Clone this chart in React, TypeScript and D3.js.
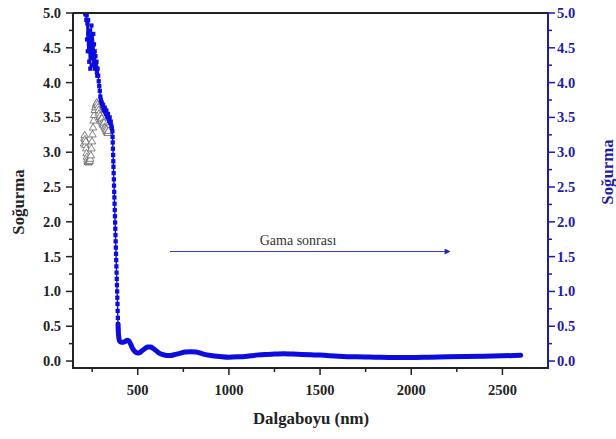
import React from 'react';
import * as d3 from 'd3';

// blue series (after gamma) - wavelength (nm) and absorbance
const blueNm = [
  212, 214, 216, 218, 220, 222, 224, 226, 228, 230, 232, 234, 236, 238, 240, 242, 244, 246, 248, 250,
  252, 254, 256, 258, 260, 262, 264, 266, 268, 270, 272, 274, 276, 278, 280, 283, 286, 289, 292, 295,
  298, 301, 304, 307, 310, 313, 316, 319, 322, 325, 328, 331, 334, 337, 340, 343, 346, 349, 352, 355,
  358, 361, 362, 363, 364, 365, 366, 367, 368, 369, 370, 371, 372, 373, 374, 375, 376, 377, 378, 379,
  380, 381, 382, 383, 384, 385, 386, 387, 388, 389, 390, 391, 392, 393, 395, 398, 402, 410, 420, 430,
  440, 450, 460, 470, 480, 490, 500, 510, 525, 540, 555, 570, 585, 600, 620, 640, 660, 680, 700, 730,
  760, 790, 820, 860, 900, 950, 1000, 1050, 1100, 1150, 1200, 1250, 1300, 1350, 1400, 1450, 1500, 1600,
  1700, 1800, 1900, 2000, 2100, 2200, 2300, 2400, 2500, 2600
];
const blueAbs = [
  5.0, 4.98, 5.0, 4.9, 4.97, 4.62, 4.85, 4.45, 4.9, 4.7, 4.55, 4.3, 4.75, 4.5, 4.2, 4.65, 4.4, 4.82, 4.35, 4.6,
  4.48, 4.25, 4.7, 4.4, 4.55, 4.3, 4.45, 4.2, 4.38, 4.28, 4.22, 4.3, 4.15, 4.1, 4.2, 4.1, 4.02, 3.95, 3.88, 3.8,
  3.75, 3.72, 3.7, 3.66, 3.68, 3.62, 3.6, 3.64, 3.58, 3.55, 3.6, 3.52, 3.5, 3.55, 3.48, 3.45, 3.5, 3.42, 3.44, 3.38,
  3.35, 3.3, 3.22, 3.14, 3.05, 2.96, 2.87, 2.79, 2.7, 2.61, 2.52, 2.43, 2.35, 2.26, 2.17, 2.08, 1.99, 1.9, 1.81, 1.72,
  1.63, 1.54, 1.45, 1.36, 1.27, 1.18, 1.09, 1.0, 0.91, 0.82, 0.72, 0.62, 0.53, 0.45, 0.37, 0.31, 0.28, 0.27, 0.27, 0.28,
  0.3, 0.29, 0.25, 0.19, 0.15, 0.125, 0.115, 0.12, 0.15, 0.18, 0.2, 0.2, 0.18, 0.15, 0.11, 0.09, 0.08, 0.08, 0.09, 0.11,
  0.13, 0.135, 0.13, 0.1, 0.08, 0.065, 0.055, 0.06, 0.07, 0.085, 0.095, 0.1, 0.105, 0.1, 0.095, 0.09, 0.085, 0.07,
  0.06, 0.055, 0.05, 0.05, 0.055, 0.06, 0.065, 0.07, 0.075, 0.082
];

// grey series (before gamma), only the UV part is visible
const grayNm = [
  205, 207, 209, 211, 213, 215, 217, 219, 221, 223, 225, 228, 231, 234, 237, 240, 243, 246, 249, 252,
  255, 258, 261, 264, 267, 270, 273, 276, 279, 282, 285, 288, 291, 294, 297, 300, 303, 306, 309, 312,
  315, 318, 321, 324, 327, 330, 333, 336, 339
];
const grayAbs = [
  3.12, 3.2, 3.24, 3.18, 3.1, 3.15, 3.05, 2.98, 2.93, 2.89, 2.86, 2.85, 2.85, 2.86, 2.87, 2.9, 2.95, 3.05, 3.15, 3.25,
  3.35, 3.45, 3.53, 3.6, 3.64, 3.67, 3.7, 3.71, 3.68, 3.64, 3.6, 3.55, 3.5, 3.52, 3.47, 3.44, 3.48, 3.42, 3.4, 3.38,
  3.42, 3.36, 3.35, 3.33, 3.3, 3.32, 3.28, 3.27, 3.3
];

const xMajor = [500, 1000, 1500, 2000, 2500];
const xMinor = [250, 750, 1250, 1750, 2250];
const yMajor = [0, 0.5, 1.0, 1.5, 2.0, 2.5, 3.0, 3.5, 4.0, 4.5, 5.0];
const yMinor = [0.25, 0.75, 1.25, 1.75, 2.25, 2.75, 3.25, 3.75, 4.25, 4.75];

const W = 616;
const H = 439;
const left = 73, right = 548, top = 13, bottom = 368;

const font = '"Liberation Serif", "Times New Roman", serif';
const axisBlue = '#1c1ca8';
const dataBlue = '#0c0ce0';

export default function App() {
  const x = d3.scaleLinear().domain([145, 2750]).range([left, right]);
  const y = d3.scaleLinear().domain([-0.1, 5.0]).range([bottom, top]);

  const blue = blueNm.map((d, i) => [d, blueAbs[i]] as [number, number]);
  const gray = grayNm.map((d, i) => [d, grayAbs[i]] as [number, number]);

  const line = d3.line<[number, number]>().x(d => x(d[0])).y(d => y(d[1]));
  const smooth = d3.line<[number, number]>().x(d => x(d[0])).y(d => y(d[1])).curve(d3.curveMonotoneX);

  const square = d3.symbol().type(d3.symbolSquare).size(18)();
  const tri = d3.symbol().type(d3.symbolTriangle).size(24)();

  const tail = blue.filter(d => d[0] >= 392);
  const head = blue.filter(d => d[0] <= 393);

  return (
    <div style={{ position: 'absolute', left: 0, top: 0 }}>
      <svg width={W} height={H} style={{ display: 'block', background: '#fff' }}>
        <defs>
          <clipPath id="plot">
            <rect x={left} y={top} width={right - left} height={bottom - top} />
          </clipPath>
          <marker id="arr" viewBox="0 0 10 10" refX="9" refY="5" markerWidth="8" markerHeight="6" orient="auto" markerUnits="userSpaceOnUse">
            <path d="M0,0 L10,5 L0,10 z" fill="#2222cc" />
          </marker>
        </defs>

        <g clipPath="url(#plot)">
          {/* grey series */}
          <path d={line(gray) || ''} fill="none" stroke="#888" strokeWidth={0.8} />
          {gray.map((d, i) => (
            <path key={'g' + i} d={tri || ''} transform={`translate(${x(d[0])},${y(d[1])})`}
              fill="#fff" stroke="#666" strokeWidth={0.8} />
          ))}
          {/* blue series */}
          <path d={line(head) || ''} fill="none" stroke={dataBlue} strokeWidth={1.4} />
          <path d={smooth(tail) || ''} fill="none" stroke={dataBlue} strokeWidth={5} strokeLinejoin="round" strokeLinecap="round" />
          {head.map((d, i) => (
            <path key={'b' + i} d={square || ''} transform={`translate(${x(d[0])},${y(d[1])})`} fill={dataBlue} />
          ))}
        </g>

        {/* frame */}
        <line x1={left} x2={right} y1={top} y2={top} stroke="#222" strokeWidth={2} />
        <line x1={left} x2={right} y1={bottom} y2={bottom} stroke="#222" strokeWidth={2} />
        <line x1={left} x2={left} y1={top} y2={bottom + 1} stroke="#222" strokeWidth={2} />
        <line x1={right} x2={right} y1={top - 1} y2={bottom + 1} stroke={axisBlue} strokeWidth={2} />

        {/* x axis */}
        {xMajor.map(t => (
          <g key={'xm' + t}>
            <line x1={x(t)} x2={x(t)} y1={bottom} y2={bottom + 7} stroke="#222" strokeWidth={1.5} />
            <text x={x(t)} y={bottom + 27} textAnchor="middle" fontFamily={font} fontWeight="bold" fontSize={14.5} fill="#222">{t}</text>
          </g>
        ))}
        {xMinor.map(t => (
          <line key={'xn' + t} x1={x(t)} x2={x(t)} y1={bottom} y2={bottom + 4} stroke="#222" strokeWidth={1.5} />
        ))}

        {/* left y axis */}
        {yMajor.map(t => (
          <g key={'ym' + t}>
            <line x1={left - 7} x2={left} y1={y(t)} y2={y(t)} stroke="#222" strokeWidth={1.5} />
            <text x={left - 12} y={y(t) + 5} textAnchor="end" fontFamily={font} fontWeight="bold" fontSize={14.5} fill="#222">{t.toFixed(1)}</text>
          </g>
        ))}
        {yMinor.map(t => (
          <line key={'yn' + t} x1={left - 4} x2={left} y1={y(t)} y2={y(t)} stroke="#222" strokeWidth={1.5} />
        ))}

        {/* right y axis */}
        {yMajor.map(t => (
          <g key={'rm' + t}>
            <line x1={right} x2={right + 7} y1={y(t)} y2={y(t)} stroke={axisBlue} strokeWidth={1.5} />
            <text x={right + 9} y={y(t) + 5} textAnchor="start" fontFamily={font} fontWeight="bold" fontSize={14.5} fill={axisBlue}>{t.toFixed(1)}</text>
          </g>
        ))}
        {yMinor.map(t => (
          <line key={'rn' + t} x1={right} x2={right + 4} y1={y(t)} y2={y(t)} stroke={axisBlue} strokeWidth={1.5} />
        ))}

        {/* axis titles */}
        <text x={311} y={424} textAnchor="middle" fontFamily={font} fontWeight="bold" fontSize={16.8} fill="#222">Dalgaboyu (nm)</text>
        <text transform={`translate(24,202) rotate(-90)`} textAnchor="middle" fontFamily={font} fontWeight="bold" fontSize={16.8} fill="#222">Soğurma</text>
        <text transform={`translate(613,172) rotate(-90)`} textAnchor="middle" fontFamily={font} fontWeight="bold" fontSize={16.8} fill={axisBlue}>Soğurma</text>

        {/* annotation */}
        <text x={298} y={245} textAnchor="middle" fontFamily={font} fontSize={14} fill="#333">Gama sonrası</text>
        <line x1={170} x2={450} y1={251.5} y2={251.5} stroke="#2222cc" strokeWidth={0.9} markerEnd="url(#arr)" />
      </svg>
    </div>
  );
}
